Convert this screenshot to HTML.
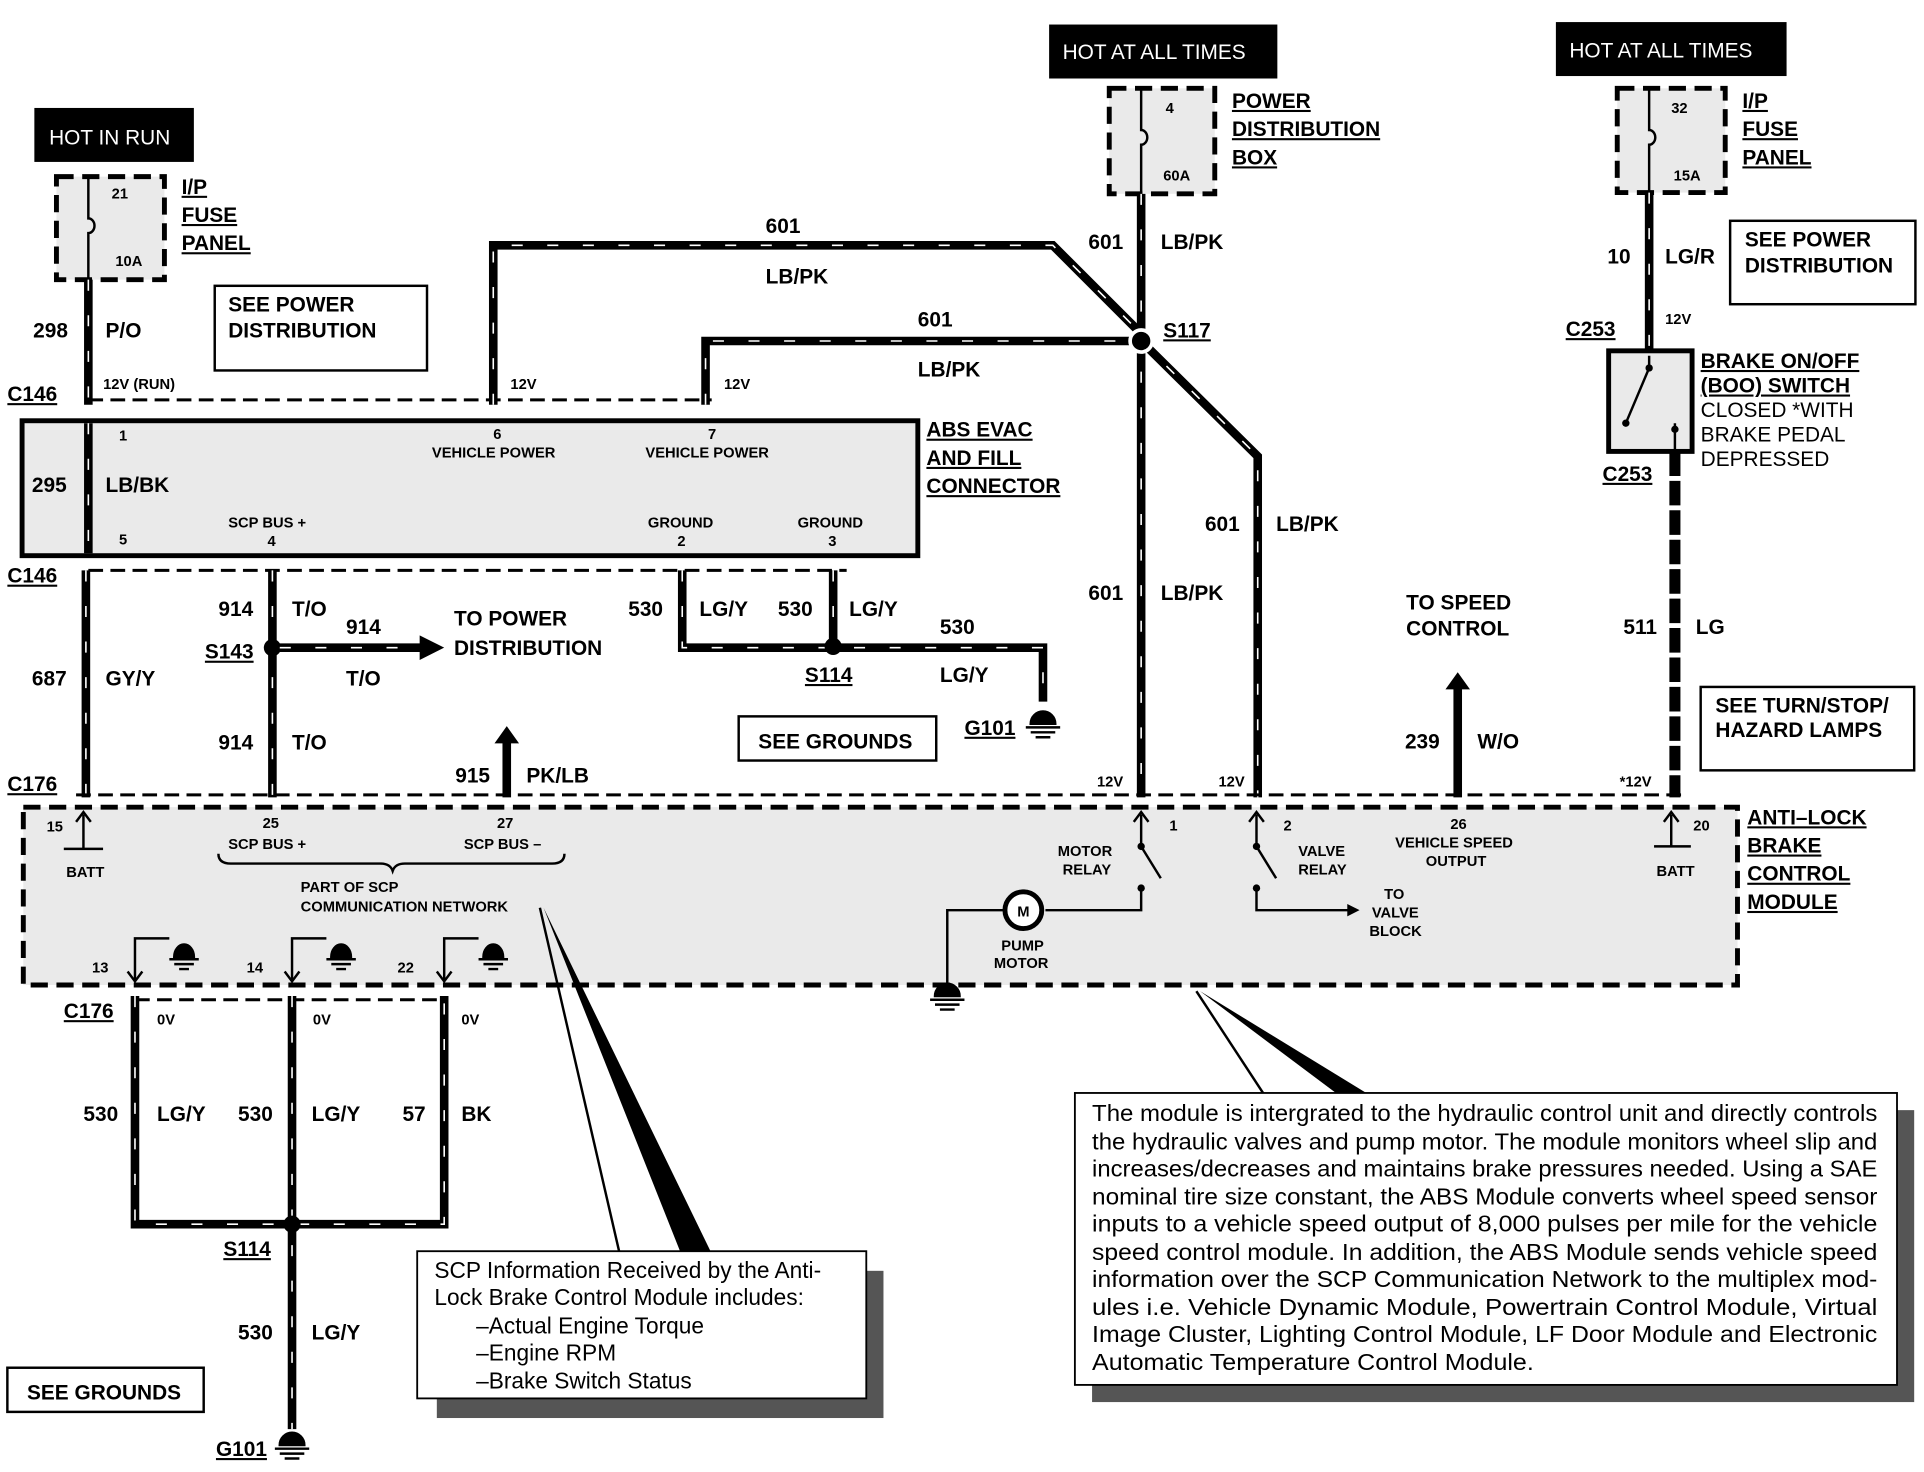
<!DOCTYPE html>
<html><head><meta charset="utf-8"><style>
html,body{margin:0;padding:0;background:#fff}
svg{display:block}
text{font-family:"Liberation Sans",sans-serif;fill:#000}
.b{font-weight:bold;font-size:17px}
.s{font-weight:bold;font-size:12px}
.u{text-decoration:underline}
.w{fill:none;stroke:#000;stroke-width:7}
.d{fill:none;stroke:#fff;stroke-width:1.3;stroke-dasharray:9 20}
.th{fill:none;stroke:#000;stroke-width:2}
.dash{fill:none;stroke:#000;stroke-width:2.5;stroke-dasharray:12 6}
.box{fill:#eaeaea;stroke:#000;stroke-width:4;stroke-dasharray:14 7}
</style></head><body>
<svg width="1924" height="1472" viewBox="0 0 1568 1200" preserveAspectRatio="none" xmlns="http://www.w3.org/2000/svg">
<defs>
<marker id="ar" markerWidth="8" markerHeight="8" refX="6" refY="4" orient="auto" markerUnits="userSpaceOnUse"><path d="M0,0 L8,4 L0,8 z"/></marker>
</defs>

<!-- HOT IN RUN -->
<rect x="28" y="88" width="130" height="44" fill="#000"/>
<text x="40" y="118" fill="#fff" style="fill:#fff;font-size:17px">HOT IN RUN</text>
<rect x="46" y="144" width="88" height="84" class="box"/>
<text x="91" y="162" class="s">21</text><text x="94" y="217" class="s">10A</text>
<path d="M72,144 V178 a5,6 0 0 1 0,12 V228" class="th" stroke-width="3"/>
<text x="148" y="158" class="b u">I/P</text><text x="148" y="181" class="b u">FUSE</text><text x="148" y="204" class="b u">PANEL</text>
<path d="M72,228 V330" class="w"/><path d="M72,228 V330" class="d"/>
<text x="27" y="275" class="b">298</text><text x="86" y="275" class="b">P/O</text>
<text x="84" y="317" class="s">12V  (RUN)</text>
<text x="6" y="327" class="b u">C146</text>
<rect x="175" y="233" width="173" height="69" fill="#fff" stroke="#000" stroke-width="2"/>
<text x="186" y="254" class="b">SEE POWER</text><text x="186" y="275" class="b">DISTRIBUTION</text>
<path d="M72,326 H580" class="dash" stroke-width="2"/>

<!-- 601 wires -->
<path d="M402,330 V200 H858 L930,272" class="w"/><path d="M402,330 V200 H858 L930,272" class="d"/>
<path d="M575,330 V278 H925" class="w"/><path d="M575,330 V278 H925" class="d"/>
<text x="624" y="190" class="b">601</text><text x="624" y="231" class="b">LB/PK</text>
<text x="748" y="266" class="b">601</text><text x="748" y="307" class="b">LB/PK</text>
<text x="416" y="317" class="s">12V</text><text x="590" y="317" class="s">12V</text>

<!-- Power distribution -->
<rect x="855" y="20" width="186" height="44" fill="#000"/>
<text x="866" y="48" style="fill:#fff;font-size:17px">HOT AT ALL TIMES</text>
<rect x="904" y="72" width="86" height="86" class="box"/>
<text x="950" y="92" class="s">4</text><text x="948" y="147" class="s">60A</text>
<path d="M930,72 V106 a5,6 0 0 1 0,12 V158" class="th" stroke-width="3"/>
<text x="1004" y="88" class="b u">POWER</text><text x="1004" y="111" class="b u">DISTRIBUTION</text><text x="1004" y="134" class="b u">BOX</text>
<path d="M930,158 V650" class="w"/><path d="M930,158 V650" class="d"/>
<path d="M930,278 L1025,372 V650" class="w"/><path d="M930,278 L1025,372 V650" class="d"/>
<circle cx="930" cy="278" r="9" fill="#000" stroke="#fff" stroke-width="3"/>
<text x="887" y="203" class="b">601</text><text x="946" y="203" class="b">LB/PK</text>
<text x="948" y="275" class="b u">S117</text>
<text x="982" y="433" class="b">601</text><text x="1040" y="433" class="b">LB/PK</text>
<text x="887" y="489" class="b">601</text><text x="946" y="489" class="b">LB/PK</text>
<text x="894" y="641" class="s">12V</text><text x="993" y="641" class="s">12V</text>

<!-- Right side -->
<rect x="1268" y="18" width="188" height="44" fill="#000"/>
<text x="1279" y="47" style="fill:#fff;font-size:17px">HOT AT ALL TIMES</text>
<rect x="1318" y="72" width="88" height="85" class="box"/>
<text x="1362" y="92" class="s">32</text><text x="1364" y="147" class="s">15A</text>
<path d="M1344,72 V106 a5,6 0 0 1 0,12 V157" class="th" stroke-width="3"/>
<text x="1420" y="88" class="b u">I/P</text><text x="1420" y="111" class="b u">FUSE</text><text x="1420" y="134" class="b u">PANEL</text>
<path d="M1344,157 V287" class="w"/><path d="M1344,157 V287" class="d"/>
<text x="1310" y="215" class="b">10</text><text x="1357" y="215" class="b">LG/R</text>
<rect x="1410" y="180" width="151" height="68" fill="#fff" stroke="#000" stroke-width="2"/>
<text x="1422" y="201" class="b">SEE POWER</text><text x="1422" y="222" class="b">DISTRIBUTION</text>
<text x="1276" y="274" class="b u">C253</text><text x="1357" y="264" class="s">12V</text>
<rect x="1311" y="286" width="68" height="82" fill="#eaeaea" stroke="#000" stroke-width="4"/>
<path d="M1344,290 V300 L1325,345 M1365,345 V366" class="th" stroke-width="3"/>
<circle cx="1344" cy="300" r="3"/><circle cx="1325" cy="345" r="3"/><circle cx="1365" cy="350" r="3"/>
<text x="1386" y="300" class="b u">BRAKE ON/OFF</text><text x="1386" y="320" class="b u">(BOO) SWITCH</text>
<text x="1386" y="340" style="font-size:17px">CLOSED *WITH</text><text x="1386" y="360" style="font-size:17px">BRAKE PEDAL</text><text x="1386" y="380" style="font-size:17px">DEPRESSED</text>
<text x="1306" y="392" class="b u">C253</text>
<path d="M1365,368 V650" fill="none" stroke="#000" stroke-width="9" stroke-dasharray="20 4"/>
<text x="1323" y="517" class="b">511</text><text x="1382" y="517" class="b">LG</text>
<rect x="1386" y="560" width="174" height="68" fill="#fff" stroke="#000" stroke-width="2"/>
<text x="1398" y="581" class="b">SEE TURN/STOP/</text><text x="1398" y="601" class="b">HAZARD LAMPS</text>
<text x="1320" y="641" class="s">*12V</text>

<!-- ABS EVAC connector -->
<rect x="18" y="343" width="730" height="110" fill="#eaeaea" stroke="#000" stroke-width="4"/>
<path d="M72,345 V451" class="w"/><path d="M72,345 V451" class="d"/>
<text x="97" y="359" class="s">1</text><text x="97" y="444" class="s">5</text>
<text x="26" y="401" class="b">295</text><text x="86" y="401" class="b">LB/BK</text>
<text x="402" y="358" class="s">6</text><text x="352" y="373" class="s">VEHICLE POWER</text>
<text x="577" y="358" class="s">7</text><text x="526" y="373" class="s">VEHICLE POWER</text>
<text x="186" y="430" class="s">SCP BUS +</text><text x="218" y="445" class="s">4</text>
<text x="528" y="430" class="s">GROUND</text><text x="552" y="445" class="s">2</text>
<text x="650" y="430" class="s">GROUND</text><text x="675" y="445" class="s">3</text>
<text x="755" y="356" class="b u">ABS EVAC</text><text x="755" y="379" class="b u">AND FILL</text><text x="755" y="402" class="b u">CONNECTOR</text>
<text x="6" y="475" class="b u">C146</text>
<path d="M72,465 H690" class="dash" stroke-width="2"/>

<!-- lower wires from C146 -->
<path d="M70,465 V650" class="w"/><path d="M70,465 V650" class="d"/>
<text x="26" y="559" class="b">687</text><text x="86" y="559" class="b">GY/Y</text>
<path d="M222,465 V650" class="w"/><path d="M222,465 V650" class="d"/>
<circle cx="222" cy="528" r="7"/>
<text x="178" y="502" class="b">914</text><text x="238" y="502" class="b">T/O</text>
<text x="178" y="611" class="b">914</text><text x="238" y="611" class="b">T/O</text>
<text x="167" y="537" class="b u">S143</text>
<path d="M228,528 H345" class="w"/><path d="M228,528 H345" class="d"/>
<path d="M342,518 L362,528 L342,538 z"/>
<text x="282" y="517" class="b">914</text><text x="282" y="559" class="b">T/O</text>
<text x="370" y="510" class="b">TO POWER</text><text x="370" y="534" class="b">DISTRIBUTION</text>

<path d="M556,465 V528 H850 V572" class="w"/><path d="M556,465 V528 H850 V572" class="d"/>
<path d="M679,465 V528" class="w"/><path d="M679,465 V528" class="d"/>
<circle cx="679" cy="527" r="7"/>
<text x="512" y="502" class="b">530</text><text x="570" y="502" class="b">LG/Y</text>
<text x="634" y="502" class="b">530</text><text x="692" y="502" class="b">LG/Y</text>
<text x="766" y="517" class="b">530</text><text x="766" y="556" class="b">LG/Y</text>
<text x="656" y="556" class="b u">S114</text>
<path d="M840,590 a10,10 0 0 1 20,0 z M836,593 H864 M840,597 H860 M844,601 H856" fill="#000" stroke="#000" stroke-width="2"/>
<text x="786" y="599" class="b u">G101</text>
<rect x="602" y="584" width="161" height="36" fill="#fff" stroke="#000" stroke-width="2"/>
<text x="618" y="610" class="b">SEE GROUNDS</text>

<path d="M413,650 V604" class="w"/><path d="M403,606 L413,592 L423,606 z"/>
<text x="371" y="638" class="b">915</text><text x="429" y="638" class="b">PK/LB</text>
<text x="1146" y="497" class="b">TO SPEED</text><text x="1146" y="518" class="b">CONTROL</text>
<path d="M1188,650 V560" class="w"/><path d="M1178,562 L1188,548 L1198,562 z"/>
<text x="1145" y="610" class="b">239</text><text x="1204" y="610" class="b">W/O</text>

<text x="6" y="645" class="b u">C176</text>
<path d="M62,648 H1375" class="dash" stroke-width="2"/>

<!-- ABS module -->
<rect x="19" y="658" width="1397" height="145" class="box"/>
<text x="1424" y="672" class="b u">ANTI–LOCK</text><text x="1424" y="695" class="b u">BRAKE</text><text x="1424" y="718" class="b u">CONTROL</text><text x="1424" y="741" class="b u">MODULE</text>
<text x="38" y="678" class="s">15</text>
<path d="M68,664 V692 M52,692 H84" class="th" stroke-width="3"/><path d="M62,670 L68,662 L74,670" class="th" stroke-width="2.5"/>
<text x="54" y="715" class="s">BATT</text>
<text x="214" y="675" class="s">25</text><text x="186" y="692" class="s">SCP BUS +</text>
<text x="405" y="675" class="s">27</text><text x="378" y="692" class="s">SCP BUS –</text>
<path d="M178,696 q0,8 10,8 H310 q8,0 10,6 q2,-6 10,-6 H450 q10,0 10,-8" class="th" stroke-width="3"/>
<text x="245" y="727" class="s">PART OF SCP</text><text x="245" y="743" class="s">COMMUNICATION NETWORK</text>

<text x="862" y="698" class="s">MOTOR</text><text x="866" y="713" class="s">RELAY</text>
<text x="953" y="677" class="s">1</text>
<path d="M930,664 V690 L946,716 M930,724 V742 H852" class="th" stroke-width="3"/><path d="M924,670 L930,662 L936,670" class="th" stroke-width="2.5"/>
<circle cx="930" cy="690" r="3"/><circle cx="930" cy="724" r="3"/>
<circle cx="834" cy="742" r="15" fill="#fff" stroke="#000" stroke-width="4"/><text x="829" y="747" class="s">M</text>
<path d="M819,742 H772 V808" class="th" stroke-width="3"/>
<path d="M762,812 a10,10 0 0 1 20,0 z M758,815 H786 M762,819 H782 M766,823 H778" fill="#000" stroke="#000" stroke-width="2"/>
<text x="816" y="775" class="s">PUMP</text><text x="810" y="789" class="s">MOTOR</text>
<text x="1046" y="677" class="s">2</text>
<path d="M1024,664 V690 L1040,716 M1024,724 V742 H1100" class="th" stroke-width="3"/><path d="M1018,670 L1024,662 L1030,670" class="th" stroke-width="2.5"/>
<path d="M1098,737 L1108,742 L1098,747 z"/>
<circle cx="1024" cy="690" r="3"/><circle cx="1024" cy="724" r="3"/>
<text x="1058" y="698" class="s">VALVE</text><text x="1058" y="713" class="s">RELAY</text>
<text x="1128" y="733" class="s">TO</text><text x="1118" y="748" class="s">VALVE</text><text x="1116" y="763" class="s">BLOCK</text>
<text x="1182" y="676" class="s">26</text><text x="1137" y="691" class="s">VEHICLE SPEED</text><text x="1162" y="706" class="s">OUTPUT</text>
<text x="1380" y="677" class="s">20</text>
<path d="M1362,664 V690 M1348,690 H1378" class="th" stroke-width="3"/><path d="M1356,670 L1362,662 L1368,670" class="th" stroke-width="2.5"/>
<text x="1350" y="714" class="s">BATT</text>

<!-- internal grounds -->
<g class="th" stroke-width="2.5">
<path d="M110,800 V765 H138"/><path d="M238,800 V765 H266"/><path d="M362,800 V765 H390"/>
<path d="M104,792 L110,800 L116,792"/><path d="M232,792 L238,800 L244,792"/><path d="M356,792 L362,800 L368,792"/>
</g>
<path d="M142,780 a8,10 0 0 1 16,0 z M138,782 H162 M142,786 H158 M146,790 H154" fill="#000" stroke="#000" stroke-width="2"/>
<path d="M270,780 a8,10 0 0 1 16,0 z M266,782 H290 M270,786 H286 M274,790 H282" fill="#000" stroke="#000" stroke-width="2"/>
<path d="M394,780 a8,10 0 0 1 16,0 z M390,782 H414 M394,786 H410 M398,790 H406" fill="#000" stroke="#000" stroke-width="2"/>
<text x="75" y="793" class="s">13</text><text x="201" y="793" class="s">14</text><text x="324" y="793" class="s">22</text>

<text x="52" y="830" class="b u">C176</text>
<path d="M110,815 H362" class="dash" stroke-width="2"/>
<path d="M110,812 V998 H362 V812" class="w"/><path d="M110,812 V998 H362 V812" class="d"/>
<path d="M238,812 V1165" class="w"/><path d="M238,812 V1165" class="d"/>
<circle cx="238" cy="998" r="7"/>
<text x="128" y="835" class="s">0V</text><text x="255" y="835" class="s">0V</text><text x="376" y="835" class="s">0V</text>
<text x="68" y="914" class="b">530</text><text x="128" y="914" class="b">LG/Y</text>
<text x="194" y="914" class="b">530</text><text x="254" y="914" class="b">LG/Y</text>
<text x="328" y="914" class="b">57</text><text x="376" y="914" class="b">BK</text>
<text x="182" y="1024" class="b u">S114</text>
<text x="194" y="1092" class="b">530</text><text x="254" y="1092" class="b">LG/Y</text>
<path d="M228,1178 a10,10 0 0 1 20,0 z M224,1181 H252 M228,1185 H248 M232,1189 H244" fill="#000" stroke="#000" stroke-width="2"/>
<text x="176" y="1187" class="b u">G101</text>
<rect x="6" y="1115" width="160" height="36" fill="#fff" stroke="#000" stroke-width="2"/>
<text x="22" y="1141" class="b">SEE GROUNDS</text>

<!-- callouts -->
<path d="M440,740 L505,1022" class="th" stroke-width="1.5"/>
<path d="M443,740 L555,1022 L580,1022 Z" fill="#000"/>
<rect x="356" y="1036" width="364" height="120" fill="#555"/>
<rect x="340" y="1020" width="366" height="120" fill="#fff" stroke="#000" stroke-width="1.5"/>
<text x="354" y="1042" style="font-size:18.5px">SCP Information Received by the Anti-</text>
<text x="354" y="1064" style="font-size:18.5px">Lock Brake Control Module includes:</text>
<text x="388" y="1087" style="font-size:18.5px">–Actual Engine Torque</text>
<text x="388" y="1109" style="font-size:18.5px">–Engine RPM</text>
<text x="388" y="1132" style="font-size:18.5px">–Brake Switch Status</text>

<path d="M975,808 L1030,892" class="th" stroke-width="1.5"/>
<path d="M978,808 L1090,892 L1115,892 Z" fill="#000"/>
<rect x="890" y="905" width="670" height="238" fill="#555"/>
<rect x="876" y="891" width="670" height="238" fill="#fff" stroke="#000" stroke-width="1.5"/>
<g style="font-size:18.5px" lengthAdjust="spacingAndGlyphs">
<text x="890" y="914" textLength="640" lengthAdjust="spacingAndGlyphs" style="font-size:18.5px">The module is intergrated to the hydraulic control unit and directly controls</text>
<text x="890" y="937" textLength="640" lengthAdjust="spacingAndGlyphs" style="font-size:18.5px">the hydraulic valves and pump motor. The module monitors wheel slip and</text>
<text x="890" y="959" textLength="640" lengthAdjust="spacingAndGlyphs" style="font-size:18.5px">increases/decreases and maintains brake pressures needed. Using a SAE</text>
<text x="890" y="982" textLength="640" lengthAdjust="spacingAndGlyphs" style="font-size:18.5px">nominal tire size constant, the ABS Module converts wheel speed sensor</text>
<text x="890" y="1004" textLength="640" lengthAdjust="spacingAndGlyphs" style="font-size:18.5px">inputs to a vehicle speed output of 8,000 pulses per mile for the vehicle</text>
<text x="890" y="1027" textLength="640" lengthAdjust="spacingAndGlyphs" style="font-size:18.5px">speed control module.  In addition, the ABS Module sends vehicle speed</text>
<text x="890" y="1049" textLength="640" lengthAdjust="spacingAndGlyphs" style="font-size:18.5px">information over the SCP Communication Network to the multiplex mod-</text>
<text x="890" y="1072" textLength="640" lengthAdjust="spacingAndGlyphs" style="font-size:18.5px">ules i.e.  Vehicle Dynamic Module, Powertrain Control Module, Virtual</text>
<text x="890" y="1094" textLength="640" lengthAdjust="spacingAndGlyphs" style="font-size:18.5px">Image Cluster, Lighting Control Module, LF Door Module and Electronic</text>
<text x="890" y="1117" textLength="360" lengthAdjust="spacingAndGlyphs" style="font-size:18.5px">Automatic Temperature Control Module.</text>
</g>
</svg>
</body></html>
